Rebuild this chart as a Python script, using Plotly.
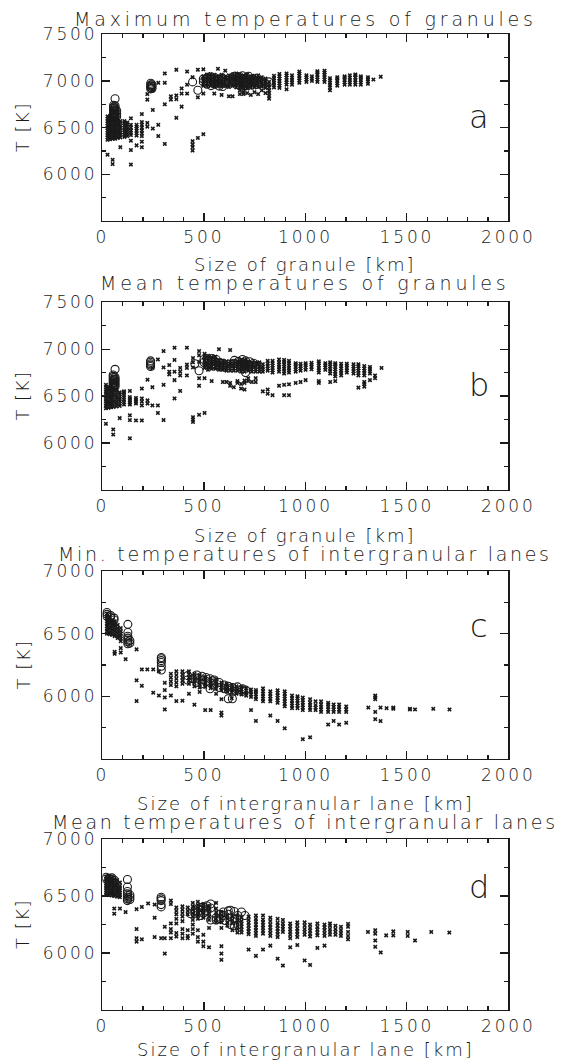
import plotly.graph_objects as go

# ---------------------------------------------------------------------------
# Panel a: maximum temperatures of granules (crosses) and tracked granules (circles)
# x = size [km]; each entry of *_T lists the temperatures [K] found at that size
A_X = [25, 37, 50, 62, 75, 88, 108, 122, 140, 168, 194, 221, 248, 275, 307, 337, 364,
       390, 417, 444, 470, 497, 515, 533, 551, 569, 587, 605, 623, 641, 659, 677, 695,
       713, 731, 749, 767, 785, 803, 821, 845, 872, 907, 934, 970, 1005, 1032, 1059,
       1094, 1121, 1157, 1193, 1219, 1246, 1273, 1308, 1335, 1371]
A_T = [
    [6210, 6370, 6395, 6420, 6445, 6470, 6495, 6520, 6545, 6570, 6595, 6620],
    [6375, 6400, 6425, 6450, 6475, 6500, 6525, 6550, 6575, 6600, 6625],
    [6110, 6155, 6380, 6405, 6430, 6455, 6480, 6505, 6530, 6555, 6580, 6605],
    [6380, 6405, 6430, 6455, 6480, 6505, 6530, 6555, 6580, 6605],
    [6390, 6415, 6440, 6465, 6490, 6515, 6540, 6565, 6590],
    [6290, 6395, 6420, 6445, 6470, 6495, 6520, 6545, 6570],
    [6400, 6425, 6450, 6475, 6500, 6525, 6550, 6570],
    [6410, 6435, 6460, 6485, 6510, 6535, 6555],
    [6105, 6260, 6360, 6420, 6445, 6470, 6500, 6530, 6600],
    [6310, 6415, 6440, 6465, 6490, 6510, 6530],
    [6290, 6350, 6410, 6440, 6470, 6500, 6530, 6560, 6645],
    [6510, 6550, 6800, 6860],
    [6490, 6690, 6900],
    [6410, 6530, 6980],
    [6325, 6750, 6980, 7080],
    [6800, 6835],
    [6605, 6805, 6845, 7120],
    [6725, 6865, 6920],
    [6865, 6960, 7100],
    [6255, 6290, 6320, 6355, 7040],
    [6390, 6825, 7120],
    [6430, 6865, 6950, 6975, 7000, 7025, 7050, 7125],
    [6945, 6970, 6995, 7020, 7045, 7070],
    [6950, 6975, 7000, 7025, 7050, 7075],
    [6865, 6940, 6965, 6990, 7015, 7040, 7065],
    [6950, 6975, 7000, 7025, 7050, 7130],
    [6850, 6940, 6965, 6990, 7015, 7040, 7065],
    [6945, 6970, 6995, 7020, 7045, 7110],
    [6835, 6935, 6960, 6985, 7010, 7035, 7060],
    [6835, 6945, 6970, 6995, 7020, 7045, 7070],
    [6930, 6955, 6980, 7005, 7030, 7055, 7080],
    [6860, 6900, 6925, 6950, 6975, 7000, 7025, 7050, 7075],
    [6860, 6880, 6910, 6935, 6960, 6985, 7010, 7035, 7060],
    [6870, 6920, 6945, 6970, 6995, 7020, 7045, 7070],
    [6850, 6925, 6950, 6975, 7000, 7025, 7050],
    [6880, 6930, 6955, 6980, 7005, 7030, 7055],
    [6860, 6935, 6960, 6985, 7010, 7035, 7060],
    [6900, 6940, 6965, 6990, 7015, 7040],
    [6870, 6925, 6950, 6975, 7000, 7025],
    [6810, 6840, 6870, 6900, 6930, 6960, 6990],
    [6930, 6955, 6980, 7005, 7030, 7055],
    [6925, 6950, 6975, 7000, 7025, 7050, 7075],
    [6910, 6960, 6985, 7010, 7035, 7060, 7080],
    [6960, 6985, 7010, 7035, 7060],
    [6980, 7005, 7030, 7055, 7080, 7100],
    [6990, 7015, 7040, 7060],
    [7000, 7025, 7050],
    [6990, 7015, 7040, 7065, 7090, 7105],
    [6990, 7015, 7040, 7065, 7090, 7110],
    [6900, 6930, 6955, 6980, 7005, 7030],
    [6950, 6975, 7000, 7025, 7040],
    [6960, 6985, 7010, 7035, 7050],
    [6960, 6985, 7010, 7035, 7060],
    [6960, 6985, 7010, 7035, 7060, 7070],
    [6960, 6985, 7010, 7035, 7050],
    [6970, 6995, 7020, 7040],
    [7015],
    [7045],
]
A_XC = [55, 62, 70, 238, 244, 444, 470, 497, 515, 535, 555, 575, 592, 610, 650, 670,
        690, 705, 720, 740, 760, 780, 820]
A_TC = [
    [6600, 6615, 6630, 6645, 6660, 6675, 6690, 6705, 6720, 6740],
    [6610, 6630, 6650, 6670, 6690, 6710, 6735, 6810],
    [6620, 6650, 6680],
    [6915, 6930, 6945, 6960, 6975],
    [6920, 6940, 6960],
    [6990], [6900], [6990, 7020], [6965, 6995, 7030], [6950, 6985, 7015],
    [6965, 7000, 7035], [6945, 6980, 7020], [6940, 7030], [6975, 7005],
    [6990, 7050], [6960, 7000, 7040], [6975, 7015, 7055], [6950, 6990, 7030],
    [6970, 7010, 7050], [6985, 7025], [6965, 7005], [6990], [6990],
]

# ---------------------------------------------------------------------------
# Panel b: mean temperatures of granules
B_X = [17, 30, 42, 53, 69, 85, 106, 135, 165, 194, 222, 246, 273, 301, 329, 355, 383,
       416, 446, 476, 503, 520, 538, 556, 574, 593, 611, 629, 647, 665, 683, 700, 718,
       736, 755, 773, 790, 814, 838, 870, 895, 919, 952, 976, 1001, 1030, 1066, 1098,
       1122, 1147, 1176, 1204, 1237, 1261, 1290, 1318, 1343, 1375]
B_T = [
    [6205, 6370, 6395, 6420, 6445, 6470, 6495, 6520, 6545, 6570, 6595, 6620],
    [6375, 6400, 6425, 6450, 6475, 6500, 6525, 6550, 6575, 6600],
    [6380, 6405, 6430, 6455, 6480, 6505, 6530, 6555, 6580, 6605],
    [6090, 6145, 6385, 6410, 6435, 6460, 6485, 6510, 6535, 6560, 6585],
    [6390, 6415, 6440, 6465, 6490, 6515, 6540, 6565],
    [6265, 6395, 6420, 6445, 6470, 6495, 6520, 6540],
    [6410, 6435, 6460, 6485, 6510, 6535, 6550],
    [6050, 6245, 6295, 6410, 6430, 6450, 6470, 6490, 6555],
    [6240, 6420, 6440, 6460, 6480],
    [6240, 6400, 6440, 6475, 6580],
    [6420, 6455, 6675],
    [6400, 6595, 6800],
    [6320, 6400, 6890],
    [6245, 6620, 6805, 6980],
    [6730, 6760, 6830],
    [6475, 6670, 6760, 6885, 7015],
    [6555, 6720, 6760, 6800],
    [6720, 6800, 6835, 7015],
    [6225, 6250, 6275, 6805, 6860, 6905],
    [6300, 6610, 6690, 6865, 6935, 6980],
    [6320, 6690, 6800, 6825, 6850, 6875, 6900, 6925, 6950],
    [6780, 6805, 6830, 6855, 6880, 6905, 6930],
    [6660, 6790, 6815, 6840, 6865, 6890, 6915],
    [6790, 6815, 6840, 6865, 6890, 6920],
    [6780, 6805, 6830, 6855, 6880, 7000],
    [6650, 6780, 6805, 6830, 6855, 6880],
    [6650, 6770, 6795, 6820, 6845, 6870],
    [6610, 6640, 6770, 6795, 6820, 6845, 6870, 6990],
    [6595, 6770, 6795, 6820, 6845, 6870],
    [6640, 6660, 6770, 6795, 6820, 6845, 6870],
    [6580, 6630, 6760, 6785, 6810, 6835, 6860, 6885],
    [6570, 6640, 6665, 6760, 6785, 6810, 6835, 6860, 6885],
    [6660, 6690, 6770, 6795, 6820, 6845, 6870],
    [6650, 6760, 6785, 6810, 6835, 6860],
    [6650, 6690, 6760, 6785, 6810, 6835, 6860],
    [6760, 6785, 6810, 6835, 6860],
    [6550, 6760, 6785, 6810, 6840],
    [6525, 6570, 6770, 6795, 6820, 6845, 6875],
    [6510, 6750, 6775, 6800, 6825, 6850, 6875],
    [6610, 6760, 6785, 6810, 6835, 6860, 6890],
    [6510, 6620, 6740, 6765, 6790, 6815, 6840, 6865, 6885],
    [6510, 6625, 6750, 6775, 6800, 6825, 6850, 6875],
    [6640, 6760, 6785, 6810, 6835, 6850],
    [6650, 6770, 6795, 6820, 6845],
    [6670, 6780, 6805, 6830, 6850],
    [6785, 6810, 6835, 6855],
    [6640, 6660, 6750, 6775, 6800, 6825, 6850, 6870],
    [6780, 6805, 6830, 6850],
    [6650, 6740, 6765, 6790, 6815, 6840, 6860],
    [6660, 6710, 6735, 6760, 6785, 6810, 6835, 6850],
    [6720, 6745, 6770, 6795, 6820, 6845],
    [6750, 6775, 6800, 6825, 6845],
    [6740, 6765, 6790, 6815, 6840],
    [6590, 6720, 6745, 6770, 6795, 6820, 6840],
    [6600, 6630, 6650, 6720, 6745, 6770, 6795, 6820],
    [6670, 6740, 6765, 6790, 6810],
    [6690, 6720],
    [6800],
]
B_XC = [53, 62, 237, 455, 476, 500, 520, 540, 560, 580, 600, 650, 670, 690, 705, 725, 745]
B_TC = [
    [6590, 6605, 6620, 6635, 6650, 6665, 6680, 6695, 6710, 6725],
    [6600, 6620, 6640, 6660, 6680, 6700, 6785],
    [6815, 6830, 6845, 6860, 6875],
    [6845], [6770], [6860, 6890], [6850, 6880], [6840, 6875, 6900],
    [6830, 6860, 6890], [6820, 6855], [6810, 6840], [6850, 6880], [6835, 6870],
    [6820, 6855, 6890], [6750, 6840, 6875], [6830, 6865], [6850],
]

# ---------------------------------------------------------------------------
# Panel c: minimum temperatures of intergranular lanes
C_X = [22, 35, 48, 60, 75, 90, 114, 168, 194, 221, 250, 278, 307, 337, 364, 394, 426,
       453, 479, 506, 533, 560, 586, 612, 637, 660, 685, 708, 732, 756, 791, 827, 863,
       898, 934, 961, 987, 1023, 1050, 1077, 1112, 1139, 1166, 1201, 1310, 1344, 1370,
       1400, 1433, 1515, 1540, 1630, 1710]
C_T = [
    [6500, 6520, 6540, 6560, 6580, 6600, 6620, 6640, 6660],
    [6495, 6515, 6535, 6555, 6575, 6595, 6615, 6635],
    [6490, 6510, 6530, 6550, 6570, 6590, 6610],
    [6340, 6355, 6480, 6500, 6520, 6540, 6560, 6580, 6600],
    [6465, 6485, 6505, 6525, 6545, 6570],
    [6350, 6385, 6440, 6460, 6480, 6500, 6520, 6545],
    [6297],
    [5962, 6128, 6375],
    [6084, 6215],
    [6215],
    [6029, 6215],
    [6006, 6200],
    [5895, 5991, 6050, 6108],
    [6006, 6090, 6120, 6150, 6180],
    [5962, 6080, 6110, 6140, 6170, 6200],
    [5965, 6100, 6125, 6150, 6175, 6200],
    [6020, 6100, 6125, 6150, 6175, 6200],
    [5933, 6080, 6105, 6130, 6155, 6180],
    [6035, 6070, 6095, 6120, 6145, 6170],
    [5890, 6075, 6095, 6115, 6135, 6155],
    [5890, 6065, 6085, 6105, 6125, 6145],
    [6020, 6060, 6080, 6100, 6120, 6140],
    [5846, 5870, 5977, 6050, 6070, 6090, 6110],
    [6040, 6060, 6080, 6100],
    [5985, 6030, 6050, 6070, 6090],
    [6020, 6040, 6060, 6080],
    [6015, 6035, 6055, 6075],
    [6005, 6025, 6045, 6065],
    [5890, 5995, 6015, 6035, 6055],
    [5803, 5977, 5997, 6017, 6037, 6050],
    [5960, 5980, 6000, 6020, 6040, 6064],
    [5846, 5960, 5980, 6000, 6020, 6040],
    [5803, 5948, 5968, 5988, 6008, 6028, 6048],
    [5744, 5920, 5940, 5960, 5980, 6000, 6020, 6040],
    [5905, 5925, 5945, 5965, 5985, 6006],
    [5905, 5925, 5945, 5965, 5985, 6000],
    [5657, 5890, 5910, 5930, 5950, 5970, 5990],
    [5672, 5890, 5910, 5930, 5950, 5977],
    [5890, 5910, 5930, 5960],
    [5875, 5895, 5915, 5935, 5960],
    [5774, 5875, 5895, 5915, 5935, 5948],
    [5803, 5875, 5895, 5915, 5935],
    [5774, 5875, 5895, 5915, 5935],
    [5788, 5875, 5895, 5919],
    [5910],
    [5817, 5875, 5977, 5992, 6006],
    [5802, 5910],
    [5905],
    [5900, 5910],
    [5895, 5900],
    [5895],
    [5900],
    [5895],
]
C_XC = [22, 40, 57, 125, 135, 290, 420, 445, 465, 490, 510, 530, 550, 575, 600, 620,
        640, 665, 690, 705]
C_TC = [
    [6640, 6655, 6670], [6630, 6645], [6610, 6625],
    [6420, 6435, 6450, 6465, 6480, 6510, 6575], [6425, 6445],
    [6210, 6240, 6270, 6285, 6300, 6310],
    [6130, 6165], [6140], [6110, 6145, 6170], [6100, 6130, 6160], [6120, 6150],
    [6060, 6110, 6140], [6090, 6130], [6070, 6110], [6060, 6090], [5980, 6050, 6080],
    [5980, 6040, 6070], [6050, 6075], [6040, 6060], [6050],
]

# ---------------------------------------------------------------------------
# Panel d: mean temperatures of intergranular lanes
D_X = [18, 32, 46, 58, 72, 86, 114, 168, 194, 225, 257, 289, 307, 337, 364, 394, 420,
       445, 470, 497, 525, 560, 586, 615, 640, 665, 685, 720, 756, 791, 827, 863, 889,
       925, 960, 996, 1023, 1059, 1094, 1121, 1148, 1175, 1210, 1308, 1344, 1371, 1398,
       1433, 1504, 1540, 1620, 1709]
D_T = [
    [6510, 6530, 6550, 6570, 6590, 6610, 6630, 6650, 6670],
    [6510, 6530, 6550, 6570, 6590, 6610, 6630, 6650, 6670],
    [6505, 6525, 6545, 6565, 6585, 6605, 6625, 6645, 6660],
    [6345, 6390, 6500, 6520, 6540, 6560, 6580, 6600, 6620, 6650],
    [6495, 6515, 6535, 6555, 6575, 6595, 6615, 6640],
    [6390, 6490, 6510, 6530, 6550, 6570, 6590, 6620],
    [6360],
    [6100, 6130, 6210, 6385],
    [6120, 6405],
    [6435],
    [6140, 6310, 6425],
    [6130],
    [5995, 6130, 6230],
    [6130, 6180, 6210, 6260, 6430, 6460],
    [6145, 6175, 6260, 6300, 6340, 6370, 6400],
    [6130, 6170, 6210, 6280, 6320, 6350, 6380, 6410],
    [6130, 6150, 6200, 6340, 6370, 6400],
    [6170, 6210, 6250, 6290, 6320, 6350, 6380, 6410, 6440],
    [6100, 6140, 6200, 6300, 6330, 6360, 6390, 6420, 6450],
    [6060, 6100, 6160, 6310, 6340, 6370, 6400, 6430],
    [6050, 6220, 6290, 6320, 6350, 6380, 6410],
    [6270, 6300, 6330, 6360, 6390, 6440],
    [5940, 5995, 6060, 6220, 6270, 6300, 6330, 6360],
    [6240, 6270, 6300, 6330],
    [6200, 6260, 6290, 6320],
    [6180, 6210, 6240, 6270, 6300, 6330],
    [6180, 6205, 6230, 6255, 6280, 6310],
    [6030, 6165, 6190, 6215, 6240, 6265, 6290, 6320],
    [5975, 6150, 6175, 6200, 6225, 6250, 6275, 6300, 6330],
    [6030, 6170, 6195, 6220, 6245, 6270, 6295, 6330],
    [6065, 6150, 6175, 6200, 6225, 6250, 6280, 6310],
    [5950, 6140, 6165, 6190, 6215, 6240, 6265, 6300],
    [5890, 6185, 6210, 6235, 6260, 6290],
    [6050, 6130, 6160, 6185, 6210, 6235, 6260],
    [6070, 6140, 6165, 6190, 6215, 6245, 6270],
    [5935, 6160, 6185, 6210, 6240, 6270],
    [5895, 6145, 6170, 6195, 6220, 6250],
    [6045, 6155, 6180, 6205, 6230, 6260],
    [6065, 6150, 6175, 6200, 6225, 6250],
    [6160, 6185, 6210, 6240, 6260],
    [6160, 6185, 6210, 6240],
    [6150, 6175, 6200, 6230],
    [6120, 6150, 6185, 6230, 6255],
    [6185],
    [6055, 6110, 6170, 6200],
    [6005],
    [6155],
    [6155, 6190],
    [6150, 6185],
    [6110],
    [6185],
    [6180],
]
D_XC = [18, 32, 46, 58, 123, 135, 289, 435, 455, 470, 485, 497, 515, 533, 560, 580,
        595, 604, 620, 631, 649, 667, 685, 702]
D_TC = [
    [6650, 6665], [6655], [6645, 6660], [6640],
    [6460, 6475, 6490, 6505, 6520, 6540, 6580, 6645], [6470, 6490, 6510],
    [6405, 6425, 6460, 6475, 6490],
    [6345], [6350, 6370], [6360, 6390], [6330, 6375, 6400], [6350, 6390, 6405],
    [6370, 6415], [6290, 6395, 6430], [6290, 6310], [6300, 6340], [6330, 6360],
    [6285], [6340, 6370], [6250, 6375], [6240, 6300, 6365], [6245, 6330], [6360],
    [6330],
]

TITLES = ["Maximum temperatures of granules", "Mean temperatures of granules",
          "Min. temperatures of intergranular lanes",
          "Mean temperatures of intergranular lanes"]
XLABELS = ["Size of granule [km]", "Size of granule [km]",
           "Size of intergranular lane [km]", "Size of intergranular lane [km]"]
YLABEL = "T [K]"
LETTERS = ["a", "b", "c", "d"]
Y_RANGES = [(5500, 7500), (5500, 7500), (5500, 7000), (5500, 7000)]
Y_TICKS = [[6000, 6500, 7000, 7500], [6000, 6500, 7000, 7500],
           [6000, 6500, 7000], [6000, 6500, 7000]]
X_TICKS = [0, 500, 1000, 1500, 2000]

PANELS = [(A_X, A_T, A_XC, A_TC), (B_X, B_T, B_XC, B_TC),
          (C_X, C_T, C_XC, C_TC), (D_X, D_T, D_XC, D_TC)]

# ---------------------------------------------------------------------------
W, H = 573, 1061
# plot boxes in pixels (top, bottom); all share the same horizontal extent
X_LEFT, X_RIGHT = 101.5, 533
BOXES = [(24.5, 213), (295, 484.5), (566.5, 756), (837, 1009.5)]
TITLE_X = 317
TITLE_Y = [9, 276, 549, 819.5]
XLABEL_Y = [256.5, 531, 801.5, 1049]
YLABEL_X = 16.5
TITLE_SPACING = [3.8, 3.8, 2.7, 2.7]
# bottom of the panel letters' text box, in data units of each panel
LETTER_Y = [6400, 6400, 6405, 6405]

INK = "#1a1a1a"
FONT = "DejaVu Sans"


def px_x(p):
    return p / W


def px_y(p):
    return 1 - p / H


def tracked(text, spacing):
    """Text with extra letter spacing (IDL-style wide lettering)."""
    return '<span style="letter-spacing:%.1fpx">%s</span>' % (spacing, text)


def expand(xs, ts):
    ox, oy = [], []
    for x, col in zip(xs, ts):
        for t in col:
            ox.append(x)
            oy.append(t)
    return ox, oy


fig = go.Figure()
annotations = []

for i, (xc, tc, xo, to) in enumerate(PANELS):
    n = "" if i == 0 else str(i + 1)
    xa, ya = "x" + n, "y" + n
    cx, cy = expand(xc, tc)
    fig.add_trace(go.Scatter(
        x=cx, y=cy, mode="markers", xaxis=xa, yaxis=ya, showlegend=False,
        hoverinfo="skip",
        marker=dict(symbol="x", size=4, color=INK, line=dict(width=0))))
    ox, oy = expand(xo, to)
    fig.add_trace(go.Scatter(
        x=ox, y=oy, mode="markers", xaxis=xa, yaxis=ya, showlegend=False,
        hoverinfo="skip",
        marker=dict(symbol="circle-open", size=8, color=INK, line=dict(width=1.1))))

    top, bot = BOXES[i]
    axis_common = dict(
        showline=True, linecolor=INK, linewidth=1.5, mirror="ticks",
        ticks="inside", tickcolor=INK, tickwidth=1.2, ticklen=8,
        showgrid=False, zeroline=False, fixedrange=True,
        tickfont=dict(family=FONT, size=17, color=INK, weight=200),
    )
    fig.update_layout({
        "xaxis" + n: dict(
            domain=[px_x(X_LEFT), px_x(X_RIGHT)], range=[0, 2000],
            tickmode="array", tickvals=X_TICKS,
            ticktext=[tracked(str(v), 2.9) for v in X_TICKS],
            minor=dict(tickmode="linear", tick0=0, dtick=100, ticks="inside",
                       ticklen=4, tickcolor=INK, tickwidth=1.2, showgrid=False),
            anchor=ya, **axis_common),
        "yaxis" + n: dict(
            domain=[px_y(bot), px_y(top)], range=list(Y_RANGES[i]),
            tickmode="array", tickvals=Y_TICKS[i],
            ticktext=[tracked(str(v), 2.9) for v in Y_TICKS[i]],
            minor=dict(tickmode="linear", tick0=5500, dtick=250, ticks="inside",
                       ticklen=4, tickcolor=INK, tickwidth=1.2, showgrid=False),
            anchor=xa, **axis_common),
    })

    annotations.append(dict(
        text=tracked(TITLES[i], TITLE_SPACING[i]), x=px_x(TITLE_X), y=px_y(TITLE_Y[i]),
        xref="paper", yref="paper", xanchor="center", yanchor="middle",
        showarrow=False, borderpad=0,
        font=dict(family=FONT, size=19, color=INK, weight=200)))
    annotations.append(dict(
        text=tracked(XLABELS[i], 2.0), x=px_x(TITLE_X), y=px_y(XLABEL_Y[i]),
        xref="paper", yref="paper", xanchor="center", yanchor="middle",
        showarrow=False, borderpad=0,
        font=dict(family=FONT, size=18, color=INK, weight=200)))
    annotations.append(dict(
        text=tracked(YLABEL, 1.5), x=px_x(YLABEL_X), y=px_y((top + bot) / 2),
        xref="paper", yref="paper", xanchor="center", yanchor="middle",
        textangle=-90, showarrow=False, borderpad=0,
        font=dict(family=FONT, size=18, color=INK, weight=200)))
    annotations.append(dict(
        text=LETTERS[i], x=1854, y=LETTER_Y[i], xref=xa, yref=ya,
        xanchor="center", yanchor="bottom", showarrow=False, borderpad=0,
        font=dict(family=FONT, size=32, color=INK, weight=200)))

fig.update_layout(
    width=W, height=H, autosize=False,
    margin=dict(l=0, r=0, t=0, b=0),
    paper_bgcolor="white", plot_bgcolor="white",
    annotations=annotations, hovermode=False, dragmode=False,
    font=dict(family=FONT, color=INK),
)

# a static page: no mode bar, no drag handles
fig.write_html("out.html", config={"staticPlot": True, "displayModeBar": False,
                                   "responsive": False})
